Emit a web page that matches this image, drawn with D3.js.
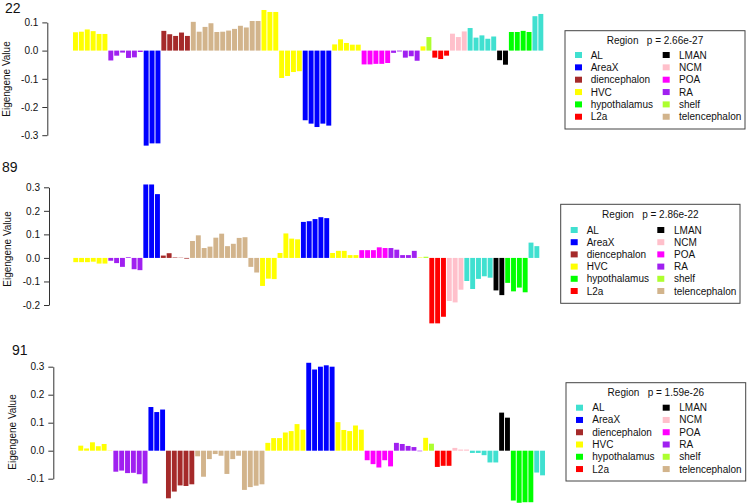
<!DOCTYPE html>
<html>
<head>
<meta charset="utf-8">
<script src="https://cdn.jsdelivr.net/npm/d3@7"></script>
<style>
  html, body { margin: 0; padding: 0; background: #fff; }
  svg { display: block; font-family: "Liberation Sans", Arial, sans-serif; }
</style>
</head>
<body>
<svg id="chart" width="747" height="503"></svg>
<script>
// ---- data ----
const regionNames = ["AL","AreaX","diencephalon","HVC","hypothalamus","L2a","LMAN","NCM","POA","RA","shelf","telencephalon"];
const regionColors = ["#40E0D0","#0000FF","#A52A2A","#FFFF00","#00FF00","#FF0000","#000000","#FFC0CB","#FF00FF","#A020F0","#ADFF2F","#D2B48C"];

// sample groups in plotted order (same for every module)
const groupRegions = ["HVC","RA","AreaX","diencephalon","telencephalon","HVC","AreaX","HVC","POA","RA","HVC","shelf","L2a","NCM","AL","LMAN","hypothalamus","AL"];
const groupSizes   = [6,6,3,5,12,7,5,5,5,5,1,1,3,3,5,2,4,2];

const moduleNames = ["22","89","91"];
const pValues = ["2.66e-27","2.86e-22","1.59e-26"];

const values22 = [
  0.065,0.067,0.075,0.069,0.059,0.059,
  -0.035,-0.018,-0.007,-0.026,-0.024,-0.005,
  -0.337,-0.329,-0.329,
  0.070,0.058,0.052,0.064,0.052,
  0.102,0.067,0.084,0.097,0.066,0.067,0.071,0.077,0.088,0.082,0.105,0.105,
  0.144,0.137,0.137,-0.097,-0.090,-0.076,-0.073,
  -0.247,-0.259,-0.271,-0.259,-0.266,
  0.022,0.040,0.027,0.021,0.021,
  -0.049,-0.049,-0.047,-0.047,-0.044,
  -0.008,-0.003,-0.025,-0.020,-0.036,
  0.015,
  0.048,
  -0.025,-0.030,-0.018,
  0.060,0.048,0.068,
  0.080,0.046,0.054,0.042,0.050,
  -0.034,-0.050,
  0.066,0.066,0.070,0.066,
  0.122,0.130
];
const values89 = [
  -0.018,-0.018,-0.018,-0.016,-0.024,-0.024,
  -0.012,-0.022,-0.038,0.003,-0.048,-0.052,
  0.312,0.312,0.271,
  0.010,0.020,0.002,0.001,-0.003,
  0.072,0.096,0.042,0.048,0.086,0.103,0.050,0.060,0.085,0.088,-0.038,-0.062,
  -0.119,-0.088,-0.090,0.021,0.104,0.082,0.079,
  0.153,0.156,0.165,0.173,0.169,
  0.021,0.030,0.030,0.012,0.012,
  0.033,0.033,0.033,0.045,0.042,
  0.042,0.035,0.012,0.012,0.030,
  0.002,
  0.005,
  -0.278,-0.278,-0.250,
  -0.183,-0.189,-0.135,
  -0.098,-0.132,-0.089,-0.078,-0.084,
  -0.138,-0.158,
  -0.106,-0.142,-0.126,-0.146,
  0.065,0.050
];
const values91 = [
  0.018,0.008,0.030,0.016,0.024,0.001,
  -0.075,-0.071,-0.080,-0.079,-0.084,-0.117,
  0.156,0.138,0.147,
  -0.170,-0.146,-0.124,-0.126,-0.120,
  -0.020,-0.093,-0.030,-0.012,-0.018,-0.083,-0.030,-0.018,-0.140,-0.130,-0.125,-0.120,
  0.028,0.045,0.045,0.065,0.070,0.095,0.075,
  0.314,0.290,0.300,0.305,0.300,
  0.102,0.074,0.070,0.090,0.075,
  -0.034,-0.048,-0.060,-0.034,-0.056,
  0.028,0.024,0.017,0.013,-0.002,
  0.046,
  0.025,
  -0.058,-0.054,-0.054,
  0.010,0.004,0.004,
  -0.008,-0.008,-0.016,-0.042,-0.042,
  0.136,0.118,
  -0.178,-0.186,-0.184,-0.184,
  -0.078,-0.088
];
const ticks22 = [-0.3,-0.2,-0.1,0.0,0.1];
const ticks89 = [-0.2,-0.1,0.0,0.1,0.2,0.3];
const ticks91 = [-0.1,0.0,0.1,0.2,0.3];

// ---- layout ----
const sampleRegions = groupRegions.flatMap((r, i) => d3.range(groupSizes[i]).map(() => r));
const color = d3.scaleOrdinal().domain(regionNames).range(regionColors);

const panels = [
  { name: moduleNames[0], p: pValues[0], values: values22, ticks: ticks22,
    xr: [73, 543.3], yr: [135.2, 22.4], axisX: 47.3,
    title: [5, 13], ylab: [10, 79],
    legend: { box: [565, 30.7, 745, 129], titleY: 40, rowY: 55, step: 12.35, sw: [575, 662.7], tx: [590.7, 679] } },
  { name: moduleNames[1], p: pValues[1], values: values89, ticks: ticks89,
    xr: [73.3, 539.3], yr: [305, 187.3], axisX: 49,
    title: [2, 172], ylab: [11, 249],
    legend: { box: [560.7, 204.3, 740, 303.3], titleY: 214, rowY: 230, step: 12.2, sw: [570.7, 657.3], tx: [586.7, 674] } },
  { name: moduleNames[2], p: pValues[2], values: values91, ticks: ticks91,
    xr: [78.3, 545], yr: [478.7, 366.7], axisX: 53.3,
    title: [12, 355], ylab: [16, 432],
    legend: { box: [566, 382.7, 745.7, 481], titleY: 392.3, rowY: 407.7, step: 12.27, sw: [576, 662.7], tx: [592.3, 679.3] } }
];

const svg = d3.select("#chart");
svg.append("rect").attr("width", 747).attr("height", 503).attr("fill", "#fff");

panels.forEach(P => {
  const g = svg.append("g");
  const x = d3.scaleBand().domain(d3.range(P.values.length)).range(P.xr).paddingInner(0.16).paddingOuter(0);
  const y = d3.scaleLinear().domain(d3.extent(P.ticks)).range(P.yr);

  g.selectAll("rect.bar").data(P.values).join("rect")
    .attr("class", "bar")
    .attr("x", (d, i) => x(i))
    .attr("width", x.bandwidth())
    .attr("y", d => y(Math.max(0, d)))
    .attr("height", d => Math.abs(y(d) - y(0)))
    .attr("fill", (d, i) => color(sampleRegions[i]));

  const axis = d3.axisLeft(y).tickValues(P.ticks).tickSizeInner(5).tickSizeOuter(0).tickPadding(4)
    .tickFormat(d => d.toFixed(1));
  const ag = g.append("g").attr("transform", `translate(${P.axisX},0)`).call(axis);
  ag.selectAll("path, line").attr("stroke", "#333");
  ag.selectAll("text").attr("fill", "#111").style("font-size", "10px").style("font-family", "Liberation Sans, Arial, sans-serif");

  g.append("text").attr("x", P.title[0]).attr("y", P.title[1])
    .style("font-size", "14px").attr("fill", "#111").text(P.name);

  g.append("text")
    .attr("transform", `translate(${P.ylab[0]},${P.ylab[1]}) rotate(-90)`)
    .attr("text-anchor", "middle").style("font-size", "10px").attr("fill", "#111")
    .text("Eigengene Value");

  // legend
  const L = P.legend;
  const lg = g.append("g");
  lg.append("rect").attr("x", L.box[0]).attr("y", L.box[1])
    .attr("width", L.box[2] - L.box[0]).attr("height", L.box[3] - L.box[1])
    .attr("fill", "#fff").attr("stroke", "#444").attr("stroke-width", 1);
  lg.append("text").attr("x", (L.box[0] + L.box[2]) / 2).attr("y", L.titleY)
    .attr("text-anchor", "middle").attr("dominant-baseline", "central")
    .style("font-size", "10px").style("white-space", "pre").attr("fill", "#111")
    .text("Region   p = " + P.p);
  regionNames.forEach((r, i) => {
    const col = Math.floor(i / 6), row = i % 6;
    const cy = L.rowY + row * L.step;
    lg.append("rect").attr("x", L.sw[col]).attr("y", cy - 3).attr("width", 7).attr("height", 6)
      .attr("fill", color(r));
    lg.append("text").attr("x", L.tx[col]).attr("y", cy).attr("dominant-baseline", "central")
      .style("font-size", "10px").attr("fill", "#111").text(r);
  });
});
</script>
</body>
</html>
